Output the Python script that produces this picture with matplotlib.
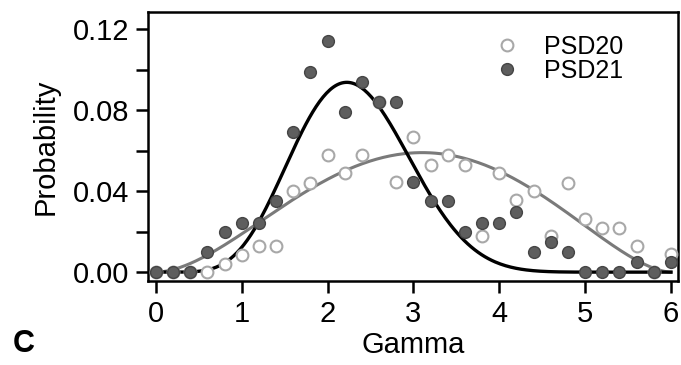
import numpy as np
import matplotlib.pyplot as plt
from matplotlib.ticker import MultipleLocator, FormatStrFormatter

plt.rcParams['font.family'] = ['Liberation Sans', 'DejaVu Sans']

# Gamma bins 0 .. 6 in steps of 0.2
gamma = [0.0, 0.2, 0.4, 0.6, 0.8, 1.0, 1.2, 1.4, 1.6, 1.8, 2.0,
         2.2, 2.4, 2.6, 2.8, 3.0, 3.2, 3.4, 3.6, 3.8, 4.0,
         4.2, 4.4, 4.6, 4.8, 5.0, 5.2, 5.4, 5.6, 5.8, 6.0]

psd20 = [0.0, 0.0, 0.0, 0.0, 0.004, 0.0085, 0.013, 0.013, 0.040, 0.044, 0.058,
         0.049, 0.058, 0.084, 0.0446, 0.0665, 0.053, 0.058, 0.053, 0.0176, 0.049,
         0.0356, 0.040, 0.018, 0.044, 0.026, 0.022, 0.022, 0.013, 0.0, 0.009]

psd21 = [0.0, 0.0, 0.0, 0.0097, 0.0196, 0.0245, 0.0245, 0.035, 0.069, 0.099, 0.114,
         0.079, 0.094, 0.084, 0.084, 0.0446, 0.035, 0.035, 0.0196, 0.0245, 0.0245,
         0.0295, 0.0097, 0.0147, 0.0097, 0.0, 0.0, 0.0, 0.0048, 0.0, 0.0048]

# fitted curves (peak height, shape exponents) on the 0..6 range
fit20 = {'amp': 0.059, 'a': 1.83, 'b': 1.71}
fit21 = {'amp': 0.0937, 'a': 6.3, 'b': 10.7}
x_max = 6.0


def fit_curve(x, amp, a, b):
    t = x / x_max
    m = a / (a + b)
    return amp * (t / m) ** a * ((1 - t) / (1 - m)) ** b


xs = np.linspace(0, x_max, 300)

fig = plt.figure(figsize=(6.81, 3.65), dpi=100)
ax = fig.add_axes([0.2173, 0.230, 0.7783, 0.737])

ax.plot(xs, fit_curve(xs, **fit20), color='#7a7a7a', lw=2.2, zorder=2)
ax.plot(xs, fit_curve(xs, **fit21), color='black', lw=2.4, zorder=2)

ax.plot(gamma, psd20, 'o', ms=8.5, mfc='white', mec='#a8a8a8', mew=1.5,
        label='PSD20', zorder=3)
ax.plot(gamma, psd21, 'o', ms=8.5, mfc='#5e5e5e', mec='#454545', mew=1.0,
        label='PSD21', zorder=4)

ax.set_xlim(-0.093, 6.082)
ax.set_ylim(-0.0044, 0.1284)
ax.xaxis.set_major_locator(MultipleLocator(1))
ax.yaxis.set_major_locator(MultipleLocator(0.04))
ax.yaxis.set_minor_locator(MultipleLocator(0.02))
ax.yaxis.set_major_formatter(FormatStrFormatter('%.2f'))

for s in ax.spines.values():
    s.set_linewidth(1.8)
ax.tick_params(axis='both', which='both', direction='out', width=1.8,
               labelsize=21, colors='black')
ax.tick_params(axis='y', which='both', length=8.6, pad=5)
ax.tick_params(axis='x', length=8.6, pad=5)

ax.set_xlabel('Gamma', fontsize=21, labelpad=2)
ax.set_ylabel('Probability', fontsize=21, labelpad=9)

ax.legend(loc='upper right', bbox_to_anchor=(0.94, 1.0), frameon=False,
          fontsize=18, handletextpad=1.0, labelspacing=0.0, handlelength=1.0)

fig.text(0.019, 0.035, 'C', fontsize=22, fontweight='bold')

fig.savefig('out.png', dpi=100)
